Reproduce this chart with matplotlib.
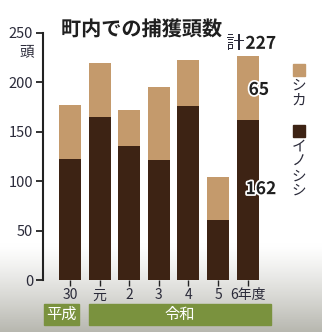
import matplotlib
matplotlib.use('Agg')
import matplotlib.pyplot as plt
import numpy as np
from matplotlib.patches import Rectangle
import matplotlib.patheffects as pe

plt.rcParams['font.family'] = ['Noto Sans CJK JP', 'DejaVu Sans']

# ---- data ----
years = ['30', '元', '2', '3', '4', '5', '6年度']
inoshishi = [122, 165, 136, 121, 176, 61, 162]
shika = [55, 55, 36, 74, 47, 43, 65]
yticks = [0, 50, 100, 150, 200, 250]
title = '町内での捕獲頭数'
era_labels = ['平成', '令和']
legend_labels = ['シカ', 'イノシシ']

C_SHIKA = '#C49A6C'
C_INO = '#3D2314'
C_TEXT = '#2b2b3a'
C_GREEN = '#7A923E'

W, H = 322, 332
fig = plt.figure(figsize=(W / 100, H / 100), dpi=100)

# background gradient (grass-like gray toward bottom)
bg = fig.add_axes([0, 0, 1, 1], zorder=-10)
yy = np.linspace(0, 1, 200)[:, None]
t = np.clip((yy * H - 245) / (H - 245), 0, 1) ** 1.2
base = np.array([1.0, 1.0, 1.0])
gray = np.array([0.72, 0.72, 0.69])
img = base[None, None, :] * (1 - t[..., None]) + gray[None, None, :] * t[..., None]
img = np.repeat(img, 4, axis=1)
bg.imshow(img, aspect='auto', extent=[0, 1, 1, 0])
bg.axis('off')

def px(x0, y0, x1, y1):
    return [x0 / W, 1 - y1 / H, (x1 - x0) / W, (y1 - y0) / H]

ax = fig.add_axes(px(43, 33, 285, 280))
ax.patch.set_alpha(0)
x = np.arange(len(years))
bw = 0.743
ax.bar(x, inoshishi, width=bw, color=C_INO, zorder=2)
ax.bar(x, shika, width=bw, bottom=inoshishi, color=C_SHIKA, zorder=2)

ax.set_xlim(-0.912, 7.264)
ax.set_ylim(0, 250)
ax.set_yticks(yticks)
ax.set_yticklabels([str(v) for v in yticks], fontsize=10.5, color=C_TEXT)
ax.set_xticks(x)
ax.set_xticklabels(years, fontsize=10, color=C_TEXT)
ax.tick_params(axis='y', length=5, width=1.3, color='#222222', pad=2)
ax.tick_params(axis='x', length=4, width=1.0, color='#222222', pad=2)
for s in ['top', 'right', 'bottom']:
    ax.spines[s].set_visible(False)
ax.spines['left'].set_linewidth(1.5)
ax.spines['left'].set_color('#222222')

stroke = [pe.withStroke(linewidth=2.5, foreground='white')]

# unit label
fig.text(27 / W, 1 - 52 / H, '頭', fontsize=10.5, color=C_TEXT, ha='center', va='center')

# title
fig.text(61 / W, 1 - 27 / H, title, fontsize=14.5, fontweight='bold', color='#1f1f1f',
         ha='left', va='center_baseline', path_effects=stroke)

# annotations on last bar
last = len(years) - 1
total = inoshishi[last] + shika[last]
ax.annotate('計', xy=(last, total), xytext=(-9, 10), textcoords='offset points',
            fontsize=13, color=C_TEXT, ha='center', va='center_baseline', path_effects=stroke)
ax.annotate(str(total), xy=(last, total), xytext=(9.5, 10), textcoords='offset points',
            fontsize=12.5, fontweight='bold', color='#1f1f1f', ha='center', va='center_baseline',
            path_effects=stroke)
ax.text(last + 0.38, inoshishi[last] + shika[last] / 2, str(shika[last]), fontsize=12.5,
        fontweight='bold', color='#1f1f1f', ha='center', va='center_baseline',
        path_effects=stroke, zorder=5)
ax.text(last + 0.45, inoshishi[last] * 0.58, str(inoshishi[last]), fontsize=12.5,
        fontweight='bold', color='#1f1f1f', ha='center', va='center_baseline',
        path_effects=stroke, zorder=5)

# legend (vertical)
fig.add_artist(Rectangle((293 / W, 1 - 76 / H), 12 / W, 12 / H, transform=fig.transFigure,
                         color=C_SHIKA))
fig.text(299 / W, 1 - 79 / H, '\n'.join(legend_labels[0]), fontsize=10.5, color=C_TEXT,
         ha='center', va='top', linespacing=1.05)
fig.add_artist(Rectangle((293 / W, 1 - 137 / H), 12 / W, 12 / H, transform=fig.transFigure,
                         color=C_INO))
fig.text(299 / W, 1 - 140 / H, '\n'.join(legend_labels[1]), fontsize=10.5, color=C_TEXT,
         ha='center', va='top', linespacing=1.05)

# era boxes
for (x0, x1), lab in zip([(44, 79), (89, 271)], era_labels):
    fig.add_artist(Rectangle((x0 / W, 1 - 325 / H), (x1 - x0) / W, 21 / H,
                             transform=fig.transFigure, color=C_GREEN))
    fig.text((x0 + x1) / 2 / W, 1 - 314.5 / H, lab, fontsize=11, color='white',
             ha='center', va='center')

fig.savefig('out.png', dpi=100)
